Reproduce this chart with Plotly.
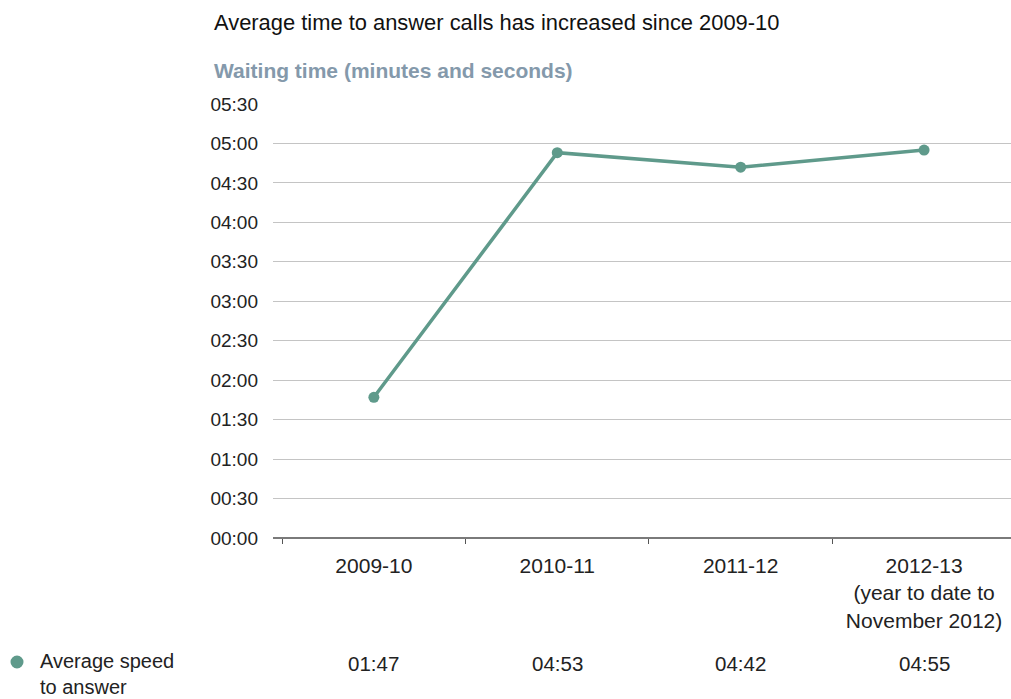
import plotly.graph_objects as go

# Financial years shown on the x axis
years = ["2009-10", "2010-11", "2011-12", "2012-13"]
year_labels = ["2009-10", "2010-11", "2011-12",
               "2012-13<br>(year to date to<br>November 2012)"]

# Average speed to answer, in seconds
avg_speed_sec = [107, 293, 282, 295]

# Y axis ticks (seconds) and their mm:ss labels
y_tick_sec = [0, 30, 60, 90, 120, 150, 180, 210, 240, 270, 300, 330]
y_tick_text = ["00:00", "00:30", "01:00", "01:30", "02:00", "02:30",
               "03:00", "03:30", "04:00", "04:30", "05:00", "05:30"]

series_name = "Average speed<br>to answer"


def mmss(s):
    return f"{s // 60:02d}:{s % 60:02d}"


W, H = 1011, 699
L, R, T, B = 273, 0, 104, 161
pw, ph = W - L - R, H - T - B

FONT = "Liberation Sans, Arial, sans-serif"
GREEN = "#5f9a8b"


def px_x(p):
    return (p - L) / pw


def px_y(p):
    return (H - B - p) / ph


fig = go.Figure()
fig.add_trace(go.Scatter(
    x=years, y=avg_speed_sec, mode="lines+markers",
    line=dict(color=GREEN, width=3.5),
    marker=dict(color=GREEN, size=11),
    hoverinfo="skip", showlegend=False,
))

annotations = [
    dict(text="Average time to answer calls has increased since 2009-10",
         xref="paper", yref="paper", x=px_x(212), y=px_y(22),
         xanchor="left", yanchor="middle", showarrow=False,
         font=dict(family=FONT, size=21.9, color="#111111")),
    dict(text="<b>Waiting time (minutes and seconds)</b>",
         xref="paper", yref="paper", x=px_x(212), y=px_y(70),
         xanchor="left", yanchor="middle", showarrow=False,
         font=dict(family=FONT, size=21, color="#8499ab")),
    dict(text=series_name, xref="paper", yref="paper",
         x=px_x(38), y=px_y(674), xanchor="left", yanchor="middle",
         align="left", showarrow=False,
         font=dict(family=FONT, size=20, color="#222222")),
]
for yr, s in zip(years, avg_speed_sec):
    annotations.append(dict(
        text=mmss(s), xref="x", yref="paper", x=yr, y=px_y(663),
        xanchor="center", yanchor="middle", showarrow=False,
        font=dict(family=FONT, size=20.5, color="#222222")))

shapes = [dict(type="circle", xref="paper", yref="paper",
               xsizemode="pixel", ysizemode="pixel",
               xanchor=px_x(17), yanchor=px_y(662),
               x0=-6.5, x1=6.5, y0=-6.5, y1=6.5,
               fillcolor=GREEN, line=dict(width=0))]

fig.update_layout(
    width=W, height=H,
    margin=dict(l=L, r=R, t=T, b=B, pad=0),
    paper_bgcolor="white", plot_bgcolor="white",
    font=dict(family=FONT, size=18, color="#222222"),
    annotations=annotations, shapes=shapes,
    xaxis=dict(
        type="category", range=[-0.55, 3.474],
        tickmode="array", tickvals=years, ticktext=year_labels,
        tickson="boundaries", ticks="outside", ticklen=5,
        tickcolor="#555555", tickwidth=1,
        showgrid=False, showline=False, zeroline=False,
        tickfont=dict(family=FONT, size=21, color="#222222"),
        ticklabelstandoff=13,
    ),
    yaxis=dict(
        range=[0, 330], tickmode="array",
        tickvals=y_tick_sec, ticktext=y_tick_text,
        showgrid=True, gridcolor="#c4c4c4", gridwidth=1,
        zeroline=True, zerolinecolor="#7a7a7a", zerolinewidth=2,
        showline=False, ticks="", ticklabelstandoff=14,
        tickfont=dict(family=FONT, size=19, color="#222222"),
    ),
)

fig.write_html("out.html")
